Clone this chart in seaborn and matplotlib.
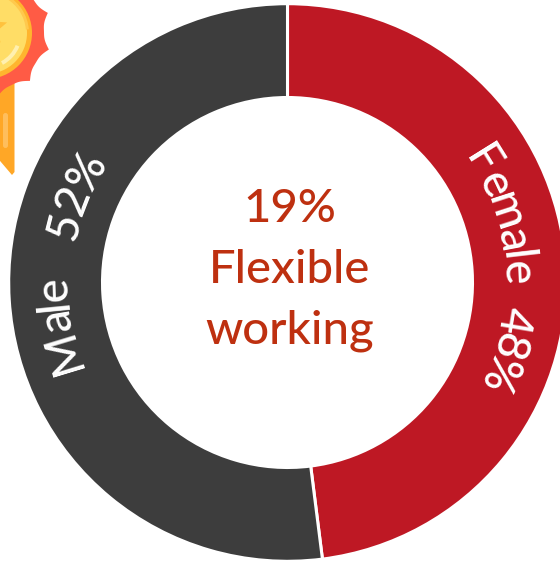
import numpy as np
import matplotlib
matplotlib.use("Agg")
import matplotlib.pyplot as plt
from matplotlib.font_manager import FontProperties
from matplotlib.patches import Circle, Polygon, FancyBboxPatch, Wedge
from matplotlib.textpath import TextPath
import seaborn as sns

# Share of flexible-working staff by gender
genders = ["Female", "Male"]
shares = [48, 52]
share_labels = ["48%", "52%"]
centre_lines = ["19%", "Flexible", "working"]
ring_colours = ["#BE1824", "#3D3D3D"]
text_red = "#BE3010"

W, H = 560, 562
sns.set_theme(style="white")
plt.rcParams["font.family"] = ["Lato", "DejaVu Sans"]

fig = plt.figure(figsize=(W / 100, H / 100), dpi=100, facecolor="white")
ax = fig.add_axes([0, 0, 1, 1])


def up(y):
    """Convert a distance from the top edge to the upward axis coordinate."""
    return H - y


CX, CY, R_OUT, R_IN = 287.5, up(282.5), 278.8, 185.0

ax.pie(
    shares,
    colors=sns.color_palette(ring_colours),
    startangle=90,
    counterclock=False,
    center=(CX, CY),
    radius=R_OUT,
    wedgeprops=dict(width=R_OUT - R_IN, edgecolor="white", linewidth=2.2),
)
ax.set_xlim(0, W)
ax.set_ylim(0, H)
ax.set_aspect("equal")
ax.axis("off")


def arc_text(string, start_deg, end_deg, radius, size):
    """Set a word along the ring, reading clockwise, with letter tops outward."""
    fp = FontProperties(family="Lato", size=size, weight="medium")
    bar = TextPath((0, 0), "|", prop=fp).get_extents().width

    def adv(s):
        # a trailing bar keeps the advance of the final glyph
        return TextPath((0, 0), s + "|", prop=fp).get_extents().x1 - bar

    total = adv(string)
    span = end_deg - start_deg
    for i, ch in enumerate(string):
        mid = (adv(string[:i]) + adv(string[: i + 1])) / 2 if i else adv(ch) / 2
        theta = start_deg + span * mid / total
        t = np.deg2rad(theta)
        ax.text(
            CX + radius * np.sin(t),
            CY + radius * np.cos(t),
            ch,
            rotation=-theta,
            rotation_mode="anchor",
            ha="center",
            va="baseline",
            color="white",
            fontsize=size,
            fontfamily="Lato",
            fontweight="medium",
        )


arc_text(genders[0], 54.5, 90.5, 216, 33)
arc_text(share_labels[0], 96, 118, 216, 33)
arc_text(genders[1], 248, 271, 221, 33)
arc_text(share_labels[1], 280.5, 303.5, 216, 33)

for line, y in zip(centre_lines, [205, 266, 327]):
    ax.text(CX + 2.5, up(y), line, ha="center", va="center_baseline",
            color=text_red, fontsize=34, fontweight="medium")


# Medal decoration in the top-left corner
mx, my = -14, up(33)
ax.add_patch(Polygon(
    [(-5, up(70)), (14.5, up(70)), (14.5, up(172)), (12, up(175)), (-5, up(155))],
    closed=True, facecolor="#FFA726", edgecolor="none", zorder=3))
ax.add_patch(FancyBboxPatch((3, up(148)), 5, 35, boxstyle="round,pad=0,rounding_size=2.5",
                            facecolor="#FFBE5C", edgecolor="none", zorder=4))
phi = np.linspace(0, 2 * np.pi, 1500)
burst_r = 58 + 7 * (1 - np.abs(np.sin(5.5 * (phi - np.deg2rad(18))))) ** 1.5
ax.add_patch(Polygon(np.c_[mx + burst_r * np.cos(phi), my + burst_r * np.sin(phi)],
                     closed=True, facecolor="#FF5B45", edgecolor="none", zorder=5))
ax.add_patch(Circle((mx, my), 46, facecolor="#FFB52E", edgecolor="none", zorder=6))
ax.add_patch(Circle((mx, my), 41, facecolor="#FFDD66", edgecolor="none", zorder=7))
ax.add_patch(Wedge((mx, my), 43, 5, 60, width=3, facecolor="#FFC94D",
                   edgecolor="none", zorder=8))
ax.add_patch(Wedge((mx, my), 36, -62, -22, width=4, facecolor="#FFF0B0",
                   edgecolor="none", zorder=8))
star_a = np.deg2rad(90 + np.arange(10) * 36)
star_r = np.where(np.arange(10) % 2 == 0, 18, 8)
ax.add_patch(Polygon(np.c_[-10 + star_r * np.cos(star_a), up(28) + star_r * np.sin(star_a)],
                     closed=True, facecolor="#FFC23D", edgecolor="none", zorder=8))

fig.savefig("out.png", dpi=100, facecolor="white")
